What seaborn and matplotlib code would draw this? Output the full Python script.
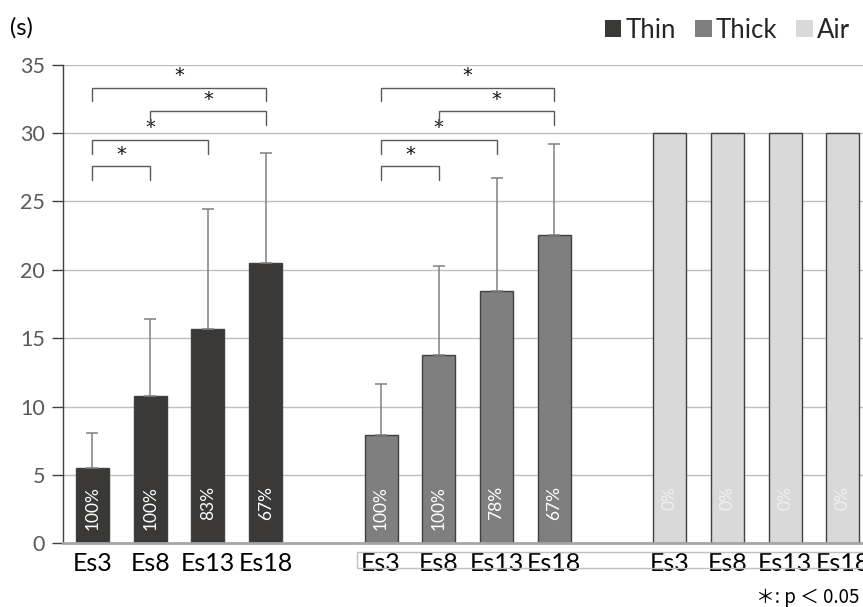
import matplotlib
matplotlib.use("Agg")
import matplotlib.pyplot as plt
import seaborn as sns
import pandas as pd
from matplotlib.patches import Rectangle

# ---- data ----
groups = ["Thin", "Thick", "Air"]
conditions = ["Es3", "Es8", "Es13", "Es18"]
thin_mean = [5.5, 10.75, 15.65, 20.5]
thin_sd = [2.6, 5.65, 8.8, 8.05]
thick_mean = [7.9, 13.8, 18.47, 22.53]
thick_sd = [3.75, 6.45, 8.27, 6.65]
air_mean = [30, 30, 30, 30]
air_sd = [0, 0, 0, 0]
thin_pct = ["100%", "100%", "83%", "67%"]
thick_pct = ["100%", "100%", "78%", "67%"]
air_pct = ["0%", "0%", "0%", "0%"]
# significance brackets: (from condition index, to condition index, bracket height, leg bottom)
brackets = [(0, 3, 33.28, 32.36), (1, 3, 31.58, 30.6), (0, 2, 29.49, 28.47), (0, 1, 27.56, 26.57)]
sig_groups = ["Thin", "Thick"]

colors = {"Thin": "#3a3938", "Thick": "#7f7f7f", "Air": "#d9d9d9"}
label_colors = {"Thin": "#ffffff", "Thick": "#ffffff", "Air": "#f0f0f0"}

# ---- table ----
means = {"Thin": thin_mean, "Thick": thick_mean, "Air": air_mean}
sds = {"Thin": thin_sd, "Thick": thick_sd, "Air": air_sd}
pcts = {"Thin": thin_pct, "Thick": thick_pct, "Air": air_pct}
rows = []
order = []
for gi, g in enumerate(groups):
    for ci, c in enumerate(conditions):
        key = f"{g}-{c}"
        order.append(key)
        rows.append({"slot": key, "group": g, "cond": c, "value": means[g][ci],
                     "sd": sds[g][ci], "pct": pcts[g][ci]})
    if gi < len(groups) - 1:
        order.append(f"gap{gi}")
df = pd.DataFrame(rows)

sns.set_style("white")
plt.rcParams["font.family"] = ["Lato", "DejaVu Sans"]

fig = plt.figure(figsize=(8.63, 6.07), dpi=100)
ax = fig.add_axes([63 / 863, 1 - 543.3 / 607, 1 - 63 / 863, (543.3 - 64.7) / 607])

sns.barplot(data=df, x="slot", y="value", hue="group", order=order, hue_order=groups,
            palette=colors, dodge=False, width=0.57, edgecolor="#404040", linewidth=1,
            errorbar=None, legend=False, ax=ax, zorder=3)

pos = {k: i for i, k in enumerate(order)}
# error bars (upper only)
for _, r in df.iterrows():
    if r["sd"] > 0:
        ax.errorbar(pos[r["slot"]], r["value"], yerr=[[0], [r["sd"]]], fmt="none",
                    ecolor="#808080", elinewidth=1.1, capsize=4, capthick=1.1, zorder=4)
    ax.text(pos[r["slot"]], 4.2, r["pct"], rotation=90, ha="center", va="top",
            color=label_colors[r["group"]], fontsize=12.5, zorder=5)

# significance brackets
for g in sig_groups:
    for a, b, h, lo in brackets:
        xa = pos[f"{g}-{conditions[a]}"]
        xb = pos[f"{g}-{conditions[b]}"]
        ax.plot([xa, xa, xb, xb], [lo, h, h, lo], color="#5a5a5a", lw=1, zorder=4,
                solid_joinstyle="miter")
        ax.text((xa + xb) / 2, h + 0.2, "*", ha="center", va="bottom", fontsize=14,
                color="#111111", family="DejaVu Sans")

ax.set_xlim(-0.511, 13.35)
ax.set_ylim(0, 35)
ax.set_yticks(range(0, 36, 5))
ax.yaxis.grid(True, color="#bfbfbf", lw=1, zorder=0)
ax.set_axisbelow(True)
ax.set_xticks(range(len(order)))
ax.set_xticklabels([o.split("-")[1] if "-" in o else "" for o in order])
ax.set_xlabel("")
ax.set_ylabel("")
ax.tick_params(axis="x", length=0, pad=6, labelsize=18, labelcolor="#000000")
ax.tick_params(axis="y", length=8, width=1, color="#404040", direction="out", pad=5,
               labelsize=15.5, labelcolor="#595959", left=True)
for s in ["top", "right"]:
    ax.spines[s].set_visible(False)
ax.spines["left"].set_color("#404040")
ax.spines["left"].set_linewidth(1)
ax.spines["bottom"].set_color("#a6a6a6")
ax.spines["bottom"].set_linewidth(2)
ax.spines["bottom"].set_zorder(6)

# legend
handles = [Rectangle((0, 0), 1, 1, facecolor=colors[g], edgecolor="none") for g in groups]
fig.legend(handles, groups, loc="center right", bbox_to_anchor=(0.997, 1 - 30 / 607), ncol=3,
           frameon=False, fontsize=18.5, handlelength=0.65, handleheight=0.65,
           handletextpad=0.15, columnspacing=0.75, borderaxespad=0.0)

fig.text(10 / 863, 1 - 28 / 607, "(s)", fontsize=17, va="center", ha="left", color="#000000")
fig.text(859 / 863, 1 - 597 / 607, "＊: p ＜ 0.05", fontsize=13.5, ha="right", va="center",
         family=["Noto Sans CJK JP", "DejaVu Sans"], color="#000000")

# light frame around category label row (reference artifact)
fig.add_artist(Rectangle((357 / 863, 1 - 568 / 607), 1, 16 / 607, transform=fig.transFigure,
                         fill=False, edgecolor="#bfbfbf", lw=1, clip_on=False))

fig.savefig("out.png", dpi=100)
